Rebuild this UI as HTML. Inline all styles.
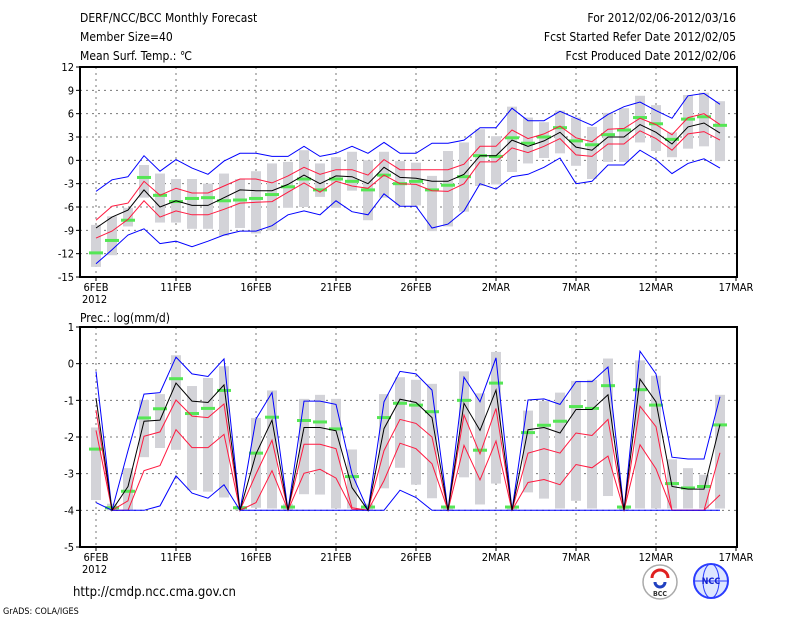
<!DOCTYPE html>
<html><head><meta charset="utf-8"><style>
html,body{margin:0;padding:0;background:#fff;}
svg{display:block;font-family:"DejaVu Sans Condensed","Liberation Sans",sans-serif;}
</style></head><body>
<svg id="chart" width="800" height="618" viewBox="0 0 800 618" xmlns="http://www.w3.org/2000/svg">
<g font-size="12" fill="#000">
<text x="80" y="22">DERF/NCC/BCC Monthly Forecast</text>
<text x="80" y="41">Member Size=40</text>
<text x="80" y="60">Mean Surf. Temp.: ℃</text>
<text x="736" y="22" text-anchor="end">For 2012/02/06-2012/03/16</text>
<text x="736" y="41" text-anchor="end">Fcst Started Refer Date 2012/02/05</text>
<text x="736" y="60" text-anchor="end">Fcst Produced Date 2012/02/06</text>
</g>
<text x="80" y="322" font-size="12">Prec.: log(mm/d)</text>
<text x="73" y="596" font-size="13">http://cmdp.ncc.cma.gov.cn</text>
<text x="3" y="614" font-size="9">GrADS: COLA/IGES</text>
<g>
<circle cx="660" cy="582" r="17" fill="#fff" stroke="#aaa" stroke-width="1.5"/>
<path d="M652 578 a8 8 0 1 1 16 0" fill="none" stroke="#e02020" stroke-width="3"/>
<path d="M655 582 a5 5 0 1 0 10 0" fill="none" stroke="#2040c0" stroke-width="3"/>
<text x="660" y="596" font-size="7" text-anchor="middle" font-weight="bold" fill="#333">BCC</text>
</g>
<g>
<circle cx="711" cy="581" r="17" fill="#dde6ff" stroke="#2a3cff" stroke-width="2"/>
<ellipse cx="711" cy="581" rx="8" ry="17" fill="none" stroke="#2a3cff" stroke-width="1"/>
<line x1="694" y1="581" x2="728" y2="581" stroke="#2a3cff"/>
<text x="711" y="584" font-size="9" text-anchor="middle" font-weight="bold" fill="#1020d0">NCC</text>
</g>
<g id="top"></g>
<g id="bot"></g>
</svg>
<script>
const dayLabels=["6FEB","11FEB","16FEB","21FEB","26FEB","2MAR","7MAR","12MAR","17MAR"];
const topTicks=[12,9,6,3,0,-3,-6,-9,-12,-15];
const botTicks=[1,0,-1,-2,-3,-4,-5];
const tMax=[-4.0,-2.5,-2.1,0.6,-1.4,0.1,-1.0,-1.8,-0.1,0.9,0.9,0.5,0.5,1.8,0.5,0.9,1.8,0.9,2.3,0.9,0.9,2.2,2.2,2.6,4.2,4.2,6.7,5.1,5.1,6.3,5.4,4.5,5.9,6.9,7.5,6.4,5.4,8.3,8.6,7.2];
const tUp=[-7.7,-5.9,-5.5,-2.7,-4.5,-3.6,-4.2,-4.2,-3.3,-2.4,-2.4,-2.9,-2.0,-0.9,-1.8,-1.2,-1.2,-1.9,0.1,-1.2,-1.2,-1.2,-1.2,-0.5,1.8,1.8,3.9,2.8,3.4,4.4,2.9,2.4,4.0,4.1,5.4,4.6,3.3,5.5,6.0,4.6];
const tMean=[-8.7,-7.3,-6.4,-3.8,-6.0,-5.2,-5.8,-5.8,-4.8,-3.8,-3.9,-3.9,-3.1,-1.9,-3.0,-2.0,-2.1,-3.0,-0.9,-2.2,-2.3,-2.7,-2.7,-1.8,0.6,0.6,2.6,1.8,2.5,3.6,1.7,1.3,3.0,3.0,4.6,3.6,2.1,4.3,4.8,3.5];
const tLo=[-10.0,-9.1,-7.6,-5.2,-7.3,-6.5,-7.0,-7.0,-6.3,-5.5,-5.4,-5.3,-4.1,-2.9,-4.1,-2.7,-3.3,-3.6,-1.9,-3.0,-3.1,-3.9,-4.0,-3.0,-0.2,-0.2,1.6,1.0,1.8,2.8,0.7,0.5,2.1,2.1,3.8,2.8,1.3,3.4,3.7,2.6];
const tMin=[-13.3,-11.5,-9.6,-8.8,-10.7,-10.4,-11.1,-10.4,-9.6,-9.1,-9.1,-8.4,-7.0,-6.5,-7.0,-5.2,-6.6,-7.0,-4.3,-5.9,-5.9,-8.7,-8.2,-6.5,-3.0,-3.7,-2.1,-1.8,-0.9,0.3,-3.0,-2.7,-0.6,-0.6,1.3,0.1,-1.7,-0.4,0.2,-1.0];
const tObs=[-11.9,-10.3,-7.7,-2.2,-4.5,-5.3,-4.9,-4.8,-5.2,-5.1,-4.9,-4.4,-3.4,-2.4,-3.8,-2.4,-2.7,-3.8,-1.9,-3.0,-2.7,-3.8,-3.2,-2.1,0.6,0.5,2.9,2.2,3.0,4.2,2.5,2.0,3.3,3.9,5.5,4.7,2.7,5.3,5.6,4.5];
const tBarHi=[-8.3,-7.2,-6.1,-0.6,-1.7,-2.4,-2.4,-3.0,-1.7,-2.4,-1.4,-0.4,-0.2,1.3,-0.4,0.4,1.1,0.0,1.1,-0.1,-0.3,-2.0,1.2,2.3,4.0,3.1,6.9,5.5,4.9,6.4,5.5,4.3,6.1,6.7,8.3,7.1,3.6,8.4,8.7,7.6];
const tBarLo=[-13.7,-12.2,-8.5,-4.8,-8.0,-8.0,-8.8,-8.8,-9.7,-8.7,-9.4,-9.0,-6.1,-6.0,-4.7,-6.1,-3.9,-7.7,-4.8,-5.8,-5.8,-9.1,-8.5,-6.6,-3.3,-3.1,-1.5,-0.4,0.3,0.9,-0.7,-2.4,-0.2,-0.2,2.3,1.2,0.4,1.5,1.8,-0.1];
const bMax=[-0.21,-4,-2.37,-0.83,-0.79,0.18,-0.28,-0.35,0.13,-4,-1.51,-0.79,-4,-1.02,-1.02,-1.11,-3.01,-4,-1.04,-0.21,-0.28,-0.72,-4,-0.37,-1.04,0.16,-4,-0.99,-0.96,-1.11,-0.49,-0.49,-0.09,-4,0.34,-0.28,-2.55,-2.6,-2.6,-0.9];
const bUp=[-1.27,-4,-3.74,-1.98,-1.86,-0.99,-1.43,-1.47,-1.1,-4,-3.01,-2.09,-4,-2.2,-2.2,-2.32,-3.93,-4,-2.37,-1.52,-1.63,-2.0,-4,-1.4,-2.46,-1.22,-4,-2.44,-2.32,-2.44,-1.89,-1.96,-1.52,-4,-1.16,-1.72,-4,-4,-4,-2.43];
const bMean=[-0.94,-4,-3.35,-1.57,-1.54,-0.53,-1.02,-1.06,-0.58,-4,-2.46,-1.54,-4,-1.74,-1.74,-1.83,-3.38,-4,-1.77,-0.97,-1.06,-1.47,-4,-1.08,-1.82,-0.72,-4,-1.8,-1.74,-1.89,-1.25,-1.25,-0.85,-4,-0.42,-1.04,-3.35,-3.42,-3.42,-1.66];
const bLo=[-1.82,-4,-4,-2.92,-2.78,-1.8,-2.29,-2.29,-1.93,-4,-3.79,-2.92,-4,-2.99,-2.88,-3.12,-3.97,-4,-3.19,-2.17,-2.32,-2.73,-4,-2.23,-3.17,-2.11,-4,-3.24,-3.16,-3.3,-2.75,-2.84,-2.52,-4,-2.21,-2.87,-4,-4,-4,-3.58];
const bMin=[-3.79,-4,-4,-4,-3.88,-3.06,-3.53,-3.67,-3.3,-4,-4,-4,-4,-4,-4,-4,-4,-4,-4,-3.45,-3.65,-4,-4,-4,-4,-4,-4,-4,-4,-4,-4,-4,-4,-4,-4,-4,-4,-4,-4,-4];
const bObs=[-2.33,-3.93,-3.48,-1.48,-1.23,-0.41,-1.36,-1.22,-0.73,-3.93,-2.44,-1.46,-3.91,-1.55,-1.59,-1.78,-3.08,-3.91,-1.47,-1.08,-1.13,-1.31,-3.91,-1.0,-2.36,-0.53,-3.91,-1.88,-1.68,-1.57,-1.17,-1.22,-0.6,-3.91,-0.71,-1.13,-3.27,-3.39,-3.35,-1.67];
const bBarHi=[-1.74,-3.82,-2.85,-0.99,-0.83,0.23,-0.61,-0.39,-0.07,-3.88,-1.48,-0.73,-3.82,-0.96,-0.85,-0.96,-2.34,-3.82,-0.83,-0.37,-0.44,-0.55,-3.88,-0.21,-0.81,0.32,-3.88,-1.28,-1.02,-0.79,-0.47,-0.44,0.14,-3.88,0.09,-0.33,-2.61,-2.85,-3.03,-0.85];
const bBarLo=[-3.72,-4,-4,-2.55,-2.3,-2.35,-3.45,-3.49,-3.65,-4,-3.93,-3.95,-4,-3.56,-3.57,-3.95,-3.95,-4,-3.4,-2.84,-3.3,-3.67,-4,-3.1,-3.84,-3.27,-4,-3.51,-3.68,-3.95,-3.74,-3.95,-3.61,-4,-3.95,-3.95,-3.95,-3.95,-3.95,-3.95];

const NS="http://www.w3.org/2000/svg";
const X0=80,X1=737;
const xDay=d=>96+16*d;
function mk(tag,attrs,parent){const e=document.createElementNS(NS,tag);for(const k in attrs)e.setAttribute(k,attrs[k]);parent.appendChild(e);return e;}
function panel(g,top,bot,vmax,vmin,ticks,series,showYear){
  const y=v=>top+(vmax-v)*(bot-top)/(vmax-vmin);
  // grid
  ticks.forEach(t=>{
    const yy=y(t);
    if(t!==vmax&&t!==vmin){const l=mk('line',{x1:X0,x2:X1,y1:yy,y2:yy,stroke:'#777','stroke-dasharray':'2,4','stroke-width':1},g);
    
    }
    mk('line',{x1:X0-4,x2:X0,y1:yy,y2:yy,stroke:'#000'},g);
    const tx=mk('text',{x:X0-6,y:yy+4,'font-size':11,'text-anchor':'end'},g);
    tx.textContent=t;
    
    
  });
  dayLabels.forEach((lab,i)=>{
    const xx=xDay(i*5);
    if(i<dayLabels.length-1){const l=mk('line',{x1:xx,x2:xx,y1:top,y2:bot,stroke:'#777','stroke-dasharray':'2,4'},g);
    
    }
    mk('line',{x1:xx,x2:xx,y1:bot,y2:bot+4,stroke:'#000'},g);
    const tx=mk('text',{x:xx,y:bot+14,'font-size':11,'text-anchor':'middle'},g);
    tx.textContent=lab;
    
    
  });
  if(showYear){const tx=mk('text',{x:xDay(0)-14,y:bot+26,'font-size':11},g);tx.textContent='2012';
    
    }
  // bars
  series.barHi.forEach((hi,d)=>{
    const lo=series.barLo[d];
    const r=mk('rect',{x:xDay(d)-5,y:y(hi),width:10,height:Math.max(1,y(lo)-y(hi)),fill:'#d3d3d8'},g);
    
    
  });
  series.obs.forEach((v,d)=>{
    const r=mk('rect',{x:xDay(d)-7,y:y(v)-1.5,width:14,height:3,fill:'#55e655'},g);
    
    
  });
  const lines=[['max',series.max,'#0000ff','max-line'],['up',series.up,'#ff1a40','upper-line'],['lo',series.lo,'#ff1a40','lower-line'],['min',series.min,'#0000ff','min-line'],['mean',series.mean,'#000','mean-line']];
  lines.forEach(([k,arr,c,nm])=>{
    const p=mk('polyline',{points:arr.map((v,d)=>xDay(d)+','+y(v).toFixed(1)).join(' '),fill:'none',stroke:c,'stroke-width':1},g);
    
    
  });
  const b=mk('rect',{x:X0,y:top,width:X1-X0,height:bot-top,fill:'none',stroke:'#000','stroke-width':2},g);
  
  
}
const gt=document.getElementById('top');


panel(gt,67,277,12,-15,topTicks,{max:tMax,up:tUp,mean:tMean,lo:tLo,min:tMin,obs:tObs,barHi:tBarHi,barLo:tBarLo},true);
const gb=document.getElementById('bot');


panel(gb,327,547,1,-5,botTicks,{max:bMax,up:bUp,mean:bMean,lo:bLo,min:bMin,obs:bObs,barHi:bBarHi,barLo:bBarLo},true);
</script>
</body></html>
